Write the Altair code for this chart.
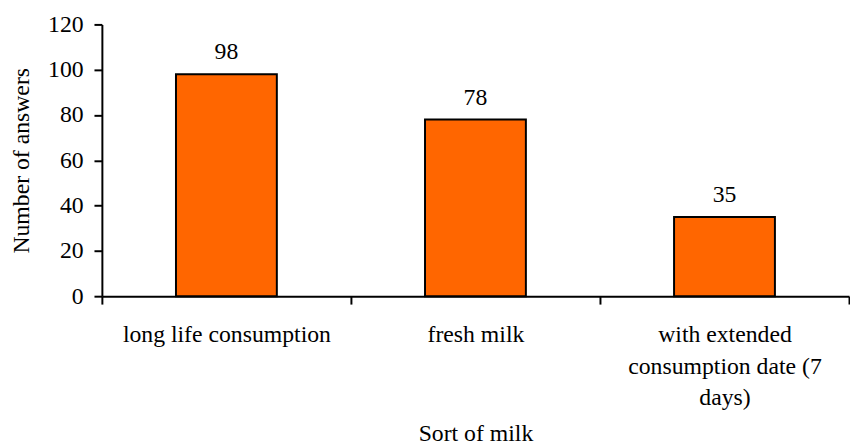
import altair as alt
import pandas as pd

categories = ["long life consumption", "fresh milk", "with extended|consumption date (7|days)"]
answers = [98, 78, 35]

df = pd.DataFrame({"sort": categories, "answers": answers})

FONT = "Liberation Serif"
FS = 24

common = dict(
    labelFont=FONT,
    titleFont=FONT,
    labelFontSize=FS,
    titleFontSize=FS,
    titleFontWeight="normal",
    labelColor="black",
    titleColor="black",
    domainColor="black",
    tickColor="black",
    domainWidth=2,
    tickWidth=2,
    tickSize=8,
    ticks=True,
    grid=False,
    labelLimit=0,
)

base = alt.Chart(df).encode(
    x=alt.X(
        "sort:N",
        sort=categories,
        scale=alt.Scale(paddingInner=0, paddingOuter=0),
        axis=alt.Axis(
            title="Sort of milk",
            labelAngle=0,
            labelExpr="split(datum.label, '|')",
            tickBand="extent",
            labelPadding=19,
            labelLineHeight=32,
            labelBaseline="top",
            titlePadding=12,
            **common,
        ),
    ),
    y=alt.Y(
        "answers:Q",
        scale=alt.Scale(domain=[0, 120]),
        axis=alt.Axis(
            title="Number of answers",
            values=[0, 20, 40, 60, 80, 100, 120],
            titlePadding=14,
            labelPadding=11,
            **common,
        ),
    ),
)

bars = base.mark_bar(
    color="#FF6600", stroke="black", strokeWidth=2, width=alt.RelativeBandSize(0.405)
)
labels = base.mark_text(dy=-15, baseline="alphabetic", font=FONT, fontSize=FS, color="black").encode(
    text="answers:Q"
)

chart = (
    (bars + labels)
    .properties(width=756, height=275, padding={"left": 2, "top": 2, "right": 0, "bottom": 0})
    .configure_view(stroke=None)
)

chart.save("out.html", embed_options={"renderer": "svg", "actions": False})
